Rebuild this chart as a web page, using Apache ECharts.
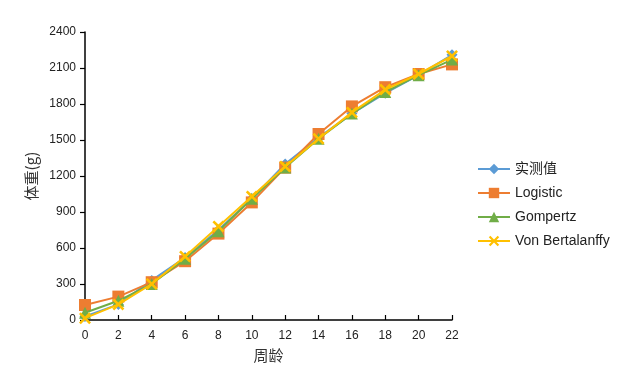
<!DOCTYPE html>
<html><head><meta charset="utf-8">
<script src="https://cdn.jsdelivr.net/npm/echarts@6/dist/echarts.min.js"></script>
<style>html,body{margin:0;padding:0;background:#fff}#c{width:620px;height:373px}</style>
</head><body><div id="c"></div>
<script>
const weeks = [0,2,4,6,8,10,12,14,16,18,20,22];
const measured = [30,130,330,520,750,1010,1300,1520,1720,1890,2040,2210];
const logistic = [125,195,315,490,720,980,1270,1550,1780,1940,2050,2130];
const gompertz = [60,160,300,510,740,1010,1270,1510,1720,1900,2040,2170];
const vonB = [15,130,300,530,780,1030,1280,1510,1730,1920,2050,2200];
const seriesNames = ['实测值','Logistic','Gompertz','Von Bertalanffy'];
const yTicks = [0,300,600,900,1200,1500,1800,2100,2400];

const pair = arr => weeks.map((w,i)=>[w,arr[i]]);
const xPath = 'path://M0,1.5L1.5,0L5,3.5L8.5,0L10,1.5L6.5,5L10,8.5L8.5,10L5,6.5L1.5,10L0,8.5L3.5,5Z';
const colors = ['#5B9BD5','#ED7D31','#70AD47','#FFC000'];
const symbols = ['diamond','rect','triangle',xPath];
const sizes = [11,12,12,12];
const datas = [measured,logistic,gompertz,vonB];

const chart = echarts.init(document.getElementById('c'));
chart.setOption({
  animation:false,
  color: colors,
  textStyle:{fontFamily:'Liberation Sans, Noto Sans, sans-serif'},
  grid:{left:85,right:168,top:32,bottom:53},
  legend:{
    orient:'vertical', left:472, top:157, itemWidth:32, itemHeight:13, itemGap:10,
    textStyle:{fontSize:14,color:'#222',fontFamily:'Liberation Sans, Noto Sans CJK SC, sans-serif'},
    data: seriesNames
  },
  xAxis:{
    type:'value', min:0, max:22, interval:2,
    name:'周龄', nameLocation:'middle', nameGap:28,
    nameTextStyle:{fontSize:15,color:'#333',fontFamily:'Noto Sans CJK SC'},
    axisLine:{lineStyle:{color:'#000',width:1.5}},
    axisTick:{inside:true,length:5,lineStyle:{color:'#000',width:1.2}},
    axisLabel:{fontSize:12,color:'#222',margin:10,formatter:v=>String(v)},
    splitLine:{show:false}
  },
  yAxis:{
    type:'value', min:yTicks[0], max:yTicks[yTicks.length-1], interval:300,
    name:'体重(g)', nameLocation:'middle', nameGap:40, nameRotate:90,
    nameTextStyle:{fontSize:15,color:'#333',fontFamily:'Noto Sans CJK SC'},
    axisLine:{show:true,lineStyle:{color:'#000',width:1.5}},
    axisTick:{show:true,length:5,lineStyle:{color:'#000',width:1.2}},
    axisLabel:{fontSize:12,color:'#222',margin:9,formatter:v=>String(v)},
    splitLine:{show:false}
  },
  series: seriesNames.map((n,i)=>({
    name:n, type:'line', data: pair(datas[i]),
    symbol: symbols[i], symbolSize: sizes[i], showAllSymbol:true,
    lineStyle:{width:2,color:colors[i]},
    itemStyle:{color:colors[i]},
    z: 2+i
  }))
});
</script></body></html>
